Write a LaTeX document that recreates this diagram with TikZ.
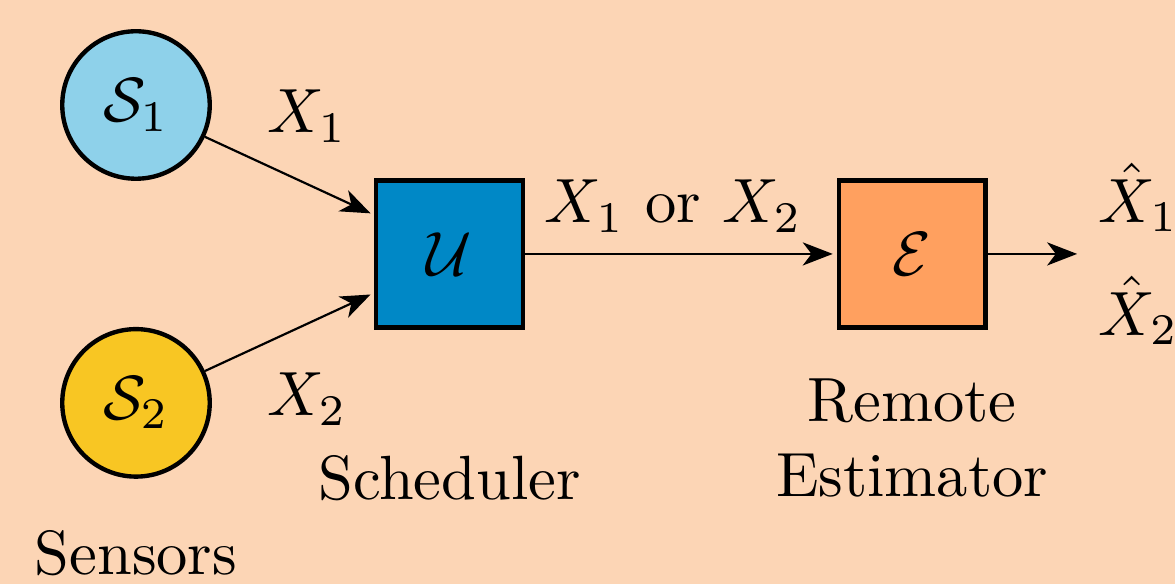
\documentclass[tikz,border=0pt]{standalone}
\usepackage{amsmath}
\usepackage{amssymb}
\usetikzlibrary{arrows.meta,positioning,calc}
\definecolor{peach}{HTML}{FCD5B5}
\definecolor{skyfill}{HTML}{8ED1EA}
\definecolor{sunfill}{HTML}{F8C623}
\definecolor{schedblue}{HTML}{0088C6}
\definecolor{estorange}{HTML}{FFA05F}

\begin{document}
\begin{tikzpicture}[
    sensor/.style={circle, draw=black, line width=0.7pt, minimum size=23.6pt, inner sep=0pt},
    block/.style={rectangle, draw=black, line width=0.7pt, minimum size=23.5pt, inner sep=0pt},
    arrow/.style={-{Stealth[length=4.8pt, width=3.7pt, inset=1.4pt]}, line width=0.35pt, shorten >=0.6pt}
  ]
    \path[use as bounding box, fill=peach] (-21.76pt,16.8pt) rectangle (166.24pt,-76.64pt);
    \node[sensor, fill=skyfill] (s1) at (0,0) {$\mathcal{S}_1$};
    \node[sensor, fill=sunfill, below=23.36pt of s1] (s2) {$\mathcal{S}_2$};
    \node[block, fill=schedblue, right=38.08pt of $(s1)!0.5!(s2)$] (sched) {$\mathcal{U}$};
    \node[block, fill=estorange, right=49.8pt of sched] (est) {$\mathcal{E}$};
    \coordinate[right=14.9pt of est] (out);
    \node[right=5.3pt of s1, yshift=-1.8pt] (x1lbl) {$X_1$};
    \node[right=5.3pt of s2, yshift=0.6pt] (x2lbl) {$X_2$};
    \node[above right=0pt and -0.7pt of out] (xhat1) {$\hat{X}_1$};
    \node[below right=0pt and -0.7pt of out] (xhat2) {$\hat{X}_2$};
    \node[below=16.6pt of sched] (schedlbl) {Scheduler};
    \node[below=4.3pt of est, align=center] (estlbl) {Remote\\Estimator};
    \node[below=4.8pt of s2] (senslbl) {Sensors};
    \draw[arrow] (s1) -- ([yshift=6.24pt]sched.west);
    \draw[arrow] (s2) -- ([yshift=-6.24pt]sched.west);
    \draw[arrow] (sched) -- node[above, xshift=-1.2pt] (link) {$X_1$ or $X_2$} (est);
    \draw[arrow] (est) -- (out);
  \end{tikzpicture}
\end{document}
